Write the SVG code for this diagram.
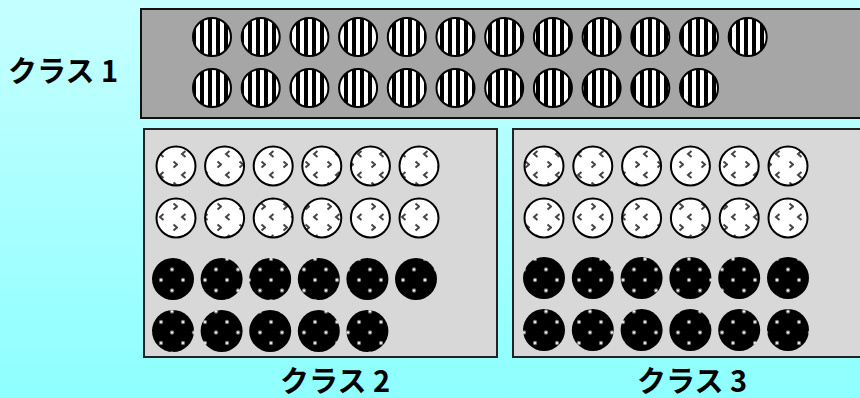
<svg xmlns="http://www.w3.org/2000/svg" width="860" height="398" viewBox="0 0 860 398">
<defs>
<linearGradient id="bg" x1="0" y1="0" x2="0" y2="1">
<stop offset="0" stop-color="#C6FFFF"/>
<stop offset="1" stop-color="#8EFFFF"/>
</linearGradient>
<pattern id="stripes" patternUnits="userSpaceOnUse" width="8" height="10">
<rect width="8" height="10" fill="#fff"/>
<rect x="0" width="4" height="10" fill="#000"/>
</pattern>
<pattern id="chev" patternUnits="userSpaceOnUse" width="22" height="21" x="2" y="2">
<rect width="22" height="21" fill="#fff"/>
<path d="M7.5 2 L4 5 L7.5 8 M17.5 12.5 L21 15.5 L17.5 18.5" fill="none" stroke="#444" stroke-width="2"/>
</pattern>
<pattern id="dots" patternUnits="userSpaceOnUse" width="22" height="21" x="2" y="2">
<rect width="22" height="21" fill="#000"/>
<circle cx="5" cy="5" r="2.2" fill="#777"/>
<circle cx="5" cy="5" r="1.1" fill="#fff"/>
<circle cx="16" cy="15.5" r="2.2" fill="#777"/>
<circle cx="16" cy="15.5" r="1.1" fill="#fff"/>
</pattern>
<style>
.lbl{font-family:"Noto Sans CJK JP","Liberation Sans",sans-serif;font-weight:bold;font-size:29px;fill:#000}
.box1{fill:#A6A6A6;stroke:#111;stroke-width:2}
.box2{fill:#D8D8D8;stroke:#222;stroke-width:2}
.s{fill:url(#stripes);stroke:#000;stroke-width:2}
.w{fill:url(#chev);stroke:#000;stroke-width:2}
.b{fill:url(#dots)}
</style>
</defs>
<rect width="860" height="398" fill="url(#bg)"/>

<g id="class1">
<rect class="box1" x="141" y="9" width="730" height="109"/>
<g>
<circle class="s" cx="212" cy="37" r="19"/>
<circle class="s" cx="260.7" cy="37" r="19"/>
<circle class="s" cx="309.4" cy="37" r="19"/>
<circle class="s" cx="358.1" cy="37" r="19"/>
<circle class="s" cx="406.8" cy="37" r="19"/>
<circle class="s" cx="455.5" cy="37" r="19"/>
<circle class="s" cx="504.2" cy="37" r="19"/>
<circle class="s" cx="552.9" cy="37" r="19"/>
<circle class="s" cx="601.6" cy="37" r="19"/>
<circle class="s" cx="650.3" cy="37" r="19"/>
<circle class="s" cx="699" cy="37" r="19"/>
<circle class="s" cx="747.7" cy="37" r="19"/>
<circle class="s" cx="212" cy="88" r="19"/>
<circle class="s" cx="260.7" cy="88" r="19"/>
<circle class="s" cx="309.4" cy="88" r="19"/>
<circle class="s" cx="358.1" cy="88" r="19"/>
<circle class="s" cx="406.8" cy="88" r="19"/>
<circle class="s" cx="455.5" cy="88" r="19"/>
<circle class="s" cx="504.2" cy="88" r="19"/>
<circle class="s" cx="552.9" cy="88" r="19"/>
<circle class="s" cx="601.6" cy="88" r="19"/>
<circle class="s" cx="650.3" cy="88" r="19"/>
<circle class="s" cx="699" cy="88" r="19"/>
</g>
<text class="lbl" x="8" y="82">クラス 1</text>
</g>

<g id="class2">
<rect class="box2" x="144" y="129" width="353" height="228"/>
<circle class="w" cx="176" cy="166" r="19.5"/>
<circle class="w" cx="224.6" cy="166" r="19.5"/>
<circle class="w" cx="273.2" cy="166" r="19.5"/>
<circle class="w" cx="321.8" cy="166" r="19.5"/>
<circle class="w" cx="370.4" cy="166" r="19.5"/>
<circle class="w" cx="419" cy="166" r="19.5"/>
<circle class="w" cx="176" cy="218" r="19.5"/>
<circle class="w" cx="224.6" cy="218" r="19.5"/>
<circle class="w" cx="273.2" cy="218" r="19.5"/>
<circle class="w" cx="321.8" cy="218" r="19.5"/>
<circle class="w" cx="370.4" cy="218" r="19.5"/>
<circle class="w" cx="419" cy="218" r="19.5"/>
<circle class="b" cx="173" cy="279" r="21"/>
<circle class="b" cx="221.6" cy="279" r="21"/>
<circle class="b" cx="270.2" cy="279" r="21"/>
<circle class="b" cx="318.8" cy="279" r="21"/>
<circle class="b" cx="367.4" cy="279" r="21"/>
<circle class="b" cx="416" cy="279" r="21"/>
<circle class="b" cx="173" cy="331" r="21"/>
<circle class="b" cx="221.6" cy="331" r="21"/>
<circle class="b" cx="270.2" cy="331" r="21"/>
<circle class="b" cx="318.8" cy="331" r="21"/>
<circle class="b" cx="367.4" cy="331" r="21"/>
<text class="lbl" x="280" y="392">クラス 2</text>
</g>

<g id="class3">
<rect class="box2" x="513" y="129" width="360" height="228"/>
<circle class="w" cx="544" cy="166" r="19.5"/>
<circle class="w" cx="592.8" cy="166" r="19.5"/>
<circle class="w" cx="641.6" cy="166" r="19.5"/>
<circle class="w" cx="690.4" cy="166" r="19.5"/>
<circle class="w" cx="739.2" cy="166" r="19.5"/>
<circle class="w" cx="788" cy="166" r="19.5"/>
<circle class="w" cx="544" cy="218" r="19.5"/>
<circle class="w" cx="592.8" cy="218" r="19.5"/>
<circle class="w" cx="641.6" cy="218" r="19.5"/>
<circle class="w" cx="690.4" cy="218" r="19.5"/>
<circle class="w" cx="739.2" cy="218" r="19.5"/>
<circle class="w" cx="788" cy="218" r="19.5"/>
<circle class="b" cx="544" cy="278" r="21"/>
<circle class="b" cx="592.8" cy="278" r="21"/>
<circle class="b" cx="641.6" cy="278" r="21"/>
<circle class="b" cx="690.4" cy="278" r="21"/>
<circle class="b" cx="739.2" cy="278" r="21"/>
<circle class="b" cx="788" cy="278" r="21"/>
<circle class="b" cx="544" cy="330" r="21"/>
<circle class="b" cx="592.8" cy="330" r="21"/>
<circle class="b" cx="641.6" cy="330" r="21"/>
<circle class="b" cx="690.4" cy="330" r="21"/>
<circle class="b" cx="739.2" cy="330" r="21"/>
<circle class="b" cx="788" cy="330" r="21"/>
<text class="lbl" x="637" y="392">クラス 3</text>
</g>
<g id="connectors"/>
</svg>
